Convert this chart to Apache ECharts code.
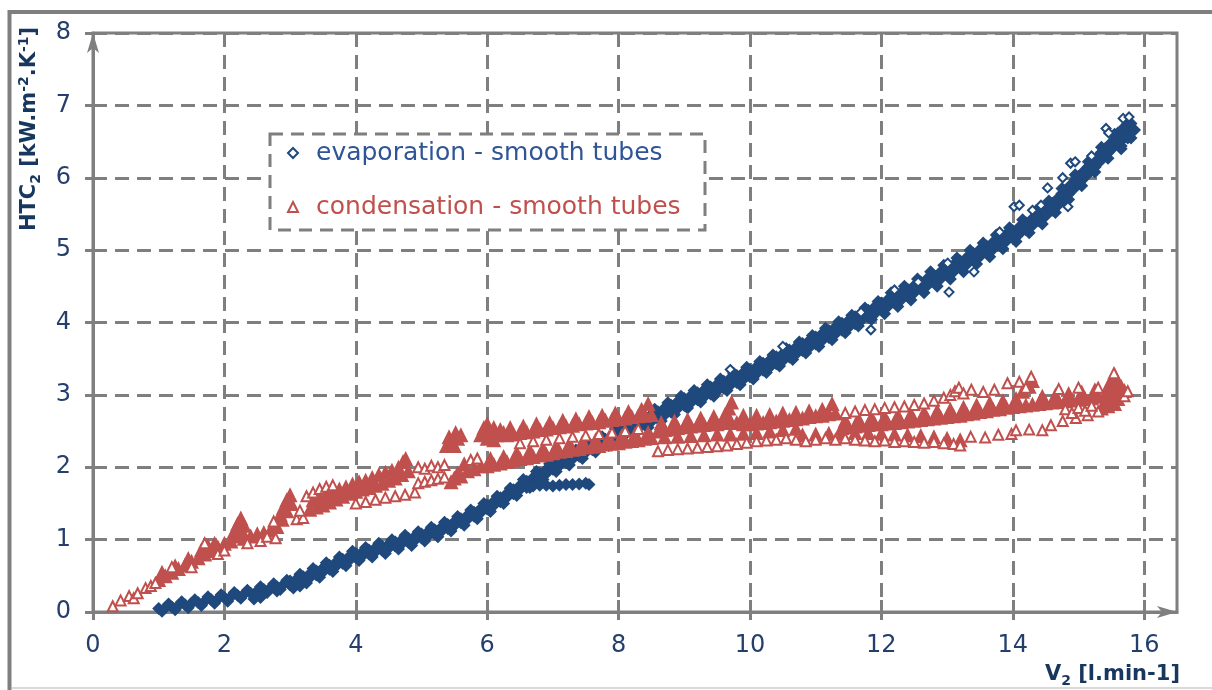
<!DOCTYPE html>
<html><head><meta charset="utf-8">
<script src="https://cdn.jsdelivr.net/npm/echarts@6/dist/echarts.min.js"></script>
<style>html,body{margin:0;padding:0;background:#fff}#c{width:1212px;height:690px}</style>
</head><body><div id="c"></div>
<script>
// ---------------- data ----------------
const X_TICKS = [0, 2, 4, 6, 8, 10, 12, 14, 16];
const Y_TICKS = [0, 1, 2, 3, 4, 5, 6, 7, 8];
const SERIES_NAMES = ['evaporation - smooth tubes', 'condensation - smooth tubes'];

// evaporation: dense band (centre line of the band)
const evapBandMid = [
[1.0,.05],[1.1,.06],[1.2,.07],[1.3,.09],[1.4,.10],[1.5,.12],[1.6,.13],[1.7,.15],[1.8,.17],[1.9,.18],
[2.0,.20],[2.1,.21],[2.2,.23],[2.3,.25],[2.4,.26],[2.5,.29],[2.6,.31],[2.7,.33],[2.8,.35],[2.9,.38],
[3.0,.40],[3.1,.43],[3.2,.46],[3.3,.50],[3.4,.54],[3.5,.58],[3.6,.62],[3.7,.66],[3.8,.70],[3.9,.74],
[4.0,.78],[4.1,.80],[4.2,.83],[4.3,.86],[4.4,.88],[4.5,.91],[4.6,.94],[4.7,.97],[4.8,.99],[4.9,1.02],
[5.0,1.05],[5.1,1.08],[5.2,1.11],[5.3,1.14],[5.4,1.18],[5.5,1.22],[5.6,1.26],[5.7,1.31],[5.8,1.35],[5.9,1.40],
[6.0,1.45],[6.1,1.50],[6.2,1.55],[6.3,1.61],[6.4,1.66],[6.5,1.72],[6.6,1.78],[6.7,1.83],[6.8,1.89],[6.9,1.94],
[7.0,2.00],[7.1,2.05],[7.2,2.09],[7.3,2.14],[7.4,2.18],[7.5,2.23],[7.6,2.27],[7.7,2.32],[7.8,2.36],[7.9,2.41],
[8.0,2.45],[8.1,2.50],[8.2,2.54],[8.3,2.59],[8.4,2.63],[8.5,2.68],[8.6,2.72],[8.7,2.77],[8.8,2.81],[8.9,2.86],
[9.0,2.90],[9.1,2.94],[9.2,2.98],[9.3,3.02],[9.4,3.06],[9.5,3.10],[9.6,3.14],[9.7,3.18],[9.8,3.22],[9.9,3.26],
[10.0,3.30],[10.1,3.34],[10.2,3.39],[10.3,3.43],[10.4,3.48],[10.5,3.52],[10.6,3.57],[10.7,3.61],[10.8,3.66],[10.9,3.70],
[11.0,3.75],[11.1,3.80],[11.2,3.84],[11.3,3.89],[11.4,3.94],[11.5,3.98],[11.6,4.03],[11.7,4.08],[11.8,4.12],[11.9,4.17],
[12.0,4.22],[12.1,4.27],[12.2,4.32],[12.3,4.36],[12.4,4.41],[12.5,4.46],[12.6,4.51],[12.7,4.56],[12.8,4.60],[12.9,4.65],
[13.0,4.70],[13.1,4.75],[13.2,4.80],[13.3,4.85],[13.4,4.91],[13.5,4.96],[13.6,5.01],[13.7,5.06],[13.8,5.12],[13.9,5.17],
[14.0,5.22],[14.1,5.27],[14.2,5.33],[14.3,5.39],[14.4,5.45],[14.5,5.52],[14.6,5.60],[14.7,5.68],[14.8,5.78],[14.9,5.87],
[15.0,5.97],[15.1,6.06],[15.2,6.15],[15.3,6.25],[15.4,6.35],[15.5,6.44],[15.6,6.52],[15.7,6.60],[15.8,6.66]
];
// evaporation: lower edge of the band
const evapBandLow = [
[1.05,.01],[1.25,.03],[1.45,.06],[1.65,.09],[1.85,.12],[2.05,.15],[2.25,.19],[2.45,.22],[2.65,.27],[2.85,.31],
[3.05,.33],[3.25,.40],[3.45,.48],[3.65,.56],[3.85,.64],[4.05,.71],[4.25,.76],[4.45,.81],[4.65,.87],[4.85,.92],
[5.05,.98],[5.25,1.04],[5.45,1.12],[5.65,1.20],[5.85,1.29],[6.05,1.39],[6.25,1.50],[6.45,1.61],[6.65,1.72],[6.85,1.83],
[7.05,1.94],[7.25,2.03],[7.45,2.12],[7.65,2.21],[7.85,2.30],[8.05,2.37],[8.25,2.46],[8.45,2.55],[8.65,2.64],[8.85,2.73],
[9.05,2.82],[9.25,2.90],[9.45,2.98],[9.65,3.06],[9.85,3.14],[10.05,3.22],[10.25,3.31],[10.45,3.40],[10.65,3.49],[10.85,3.58],
[11.05,3.67],[11.25,3.76],[11.45,3.86],[11.65,3.95],[11.85,4.04],[12.05,4.12],[12.25,4.22],[12.45,4.31],[12.65,4.41],[12.85,4.50],
[13.05,4.60],[13.25,4.70],[13.45,4.81],[13.65,4.91],[13.85,5.02],[14.05,5.12],[14.25,5.24],[14.45,5.36],[14.65,5.52],[14.85,5.70],
[15.05,5.89],[15.25,6.08],[15.45,6.27],[15.65,6.44]
];
// evaporation: upper edge of the band
const evapBandHigh = [
[1.15,.11],[1.35,.14],[1.55,.17],[1.75,.21],[1.95,.24],[2.15,.27],[2.35,.30],[2.55,.35],[2.75,.39],[2.95,.44],
[3.15,.52],[3.35,.60],[3.55,.68],[3.75,.76],[3.95,.84],[4.15,.89],[4.35,.95],[4.55,1.00],[4.75,1.06],[4.95,1.11],
[5.15,1.17],[5.35,1.24],[5.55,1.32],[5.75,1.41],[5.95,1.50],[6.15,1.60],[6.35,1.71],[6.55,1.83],[6.75,1.94],[6.95,2.05],
[7.15,2.15],[7.35,2.24],[7.55,2.33],[7.75,2.42],[7.95,2.53],[8.15,2.62],[8.35,2.71],[8.55,2.80],[8.75,2.89],[8.95,2.98],
[9.15,3.06],[9.35,3.14],[9.55,3.22],[9.75,3.30],[9.95,3.38],[10.15,3.46],[10.35,3.55],[10.55,3.64],[10.75,3.73],[10.95,3.82],
[11.15,3.92],[11.35,4.01],[11.55,4.10],[11.75,4.20],[11.95,4.29],[12.15,4.41],[12.35,4.50],[12.55,4.60],[12.75,4.70],[12.95,4.79],
[13.15,4.89],[13.35,5.00],[13.55,5.10],[13.75,5.21],[13.95,5.31],[14.15,5.42],[14.35,5.54],[14.55,5.68],[14.75,5.85],[14.95,6.04],
[15.15,6.22],[15.35,6.42],[15.55,6.60],[15.75,6.75]
];
// evaporation: side branch, lumps and end cluster (dense)
const evapClusters = [
[6.6,1.72],[6.7,1.74],[6.8,1.75],[6.9,1.75],[7.0,1.74],[7.1,1.75],[7.2,1.76],[7.3,1.76],[7.4,1.77],[7.5,1.78],[7.55,1.76],
[2.45,.18],[2.55,.20],[2.8,.29],[3.15,.36],
[15.6,6.62],[15.65,6.40],[15.7,6.70],[15.75,6.55],[15.8,6.75],[15.8,6.55]
];
// evaporation: isolated points
const evapScattered = [
[14.02,5.60],[14.10,5.62],[14.43,5.62],[14.53,5.86],[14.76,6.00],[14.88,6.20],[14.95,6.22],[14.84,5.60],
[15.42,6.68],[15.46,6.62],[15.68,6.82],[15.77,6.84],[13.01,4.82],[12.56,4.56],[13.03,4.42],[13.41,4.70],
[11.69,4.14],[11.84,3.90],[12.20,4.45],[10.50,3.67],[9.70,3.35],[13.80,5.25],[15.20,6.30],[14.30,5.55]
];

// condensation: dense parts
const condRise = [
[1.0,.45],[1.1,.50],[1.2,.55],[1.3,.60],[1.4,.65],[1.5,.70],[1.6,.75],[1.7,.80],[1.8,.85],[1.9,.90],[2.0,.95],
[1.05,.55],[1.25,.64],[1.45,.74],[1.65,.86],[1.75,.92],[1.85,.95],
[2.15,1.12],[2.2,1.22],[2.25,1.30],[2.3,1.20],[2.2,1.05],[2.28,1.10],
[2.1,.98],[2.3,1.02],[2.4,1.05],[2.5,1.08],[2.6,1.10],[2.7,1.13],[2.8,1.18],
[2.85,1.35],[2.9,1.45],[2.95,1.55],[3.0,1.62],[3.02,1.50],[2.95,1.40],[2.88,1.28],
[3.3,1.42],[3.4,1.45],[3.5,1.48],[3.6,1.52],[3.7,1.56],[3.8,1.60],[3.9,1.64],[4.0,1.67],[4.1,1.70],[4.2,1.72],[4.3,1.75],[4.4,1.78],[4.5,1.82],[4.6,1.85],[4.7,1.90],[4.8,1.95],
[3.35,1.55],[3.45,1.58],[3.55,1.62],[3.65,1.66],[3.75,1.70],[3.85,1.73],[3.95,1.77],[4.05,1.80],[4.15,1.82],[4.25,1.86],[4.35,1.90],[4.45,1.93],[4.55,1.96],[4.65,2.00],[4.72,2.08],[4.76,2.12]
];
const condMidClusters = [
[5.38,2.30],[5.42,2.42],[5.46,2.36],[5.5,2.30],[5.55,2.40],[5.6,2.45],[5.52,2.48],
[5.45,1.80],[5.5,1.85],[5.55,1.92],[5.6,1.88],[5.7,1.95],[5.8,1.98],[5.9,2.02],[5.65,2.05],
[5.9,2.45],[5.95,2.55],[6.0,2.60],[6.05,2.50],[6.1,2.55],[6.15,2.45],[6.2,2.52],[6.25,2.48],[6.0,2.40],[6.1,2.38]
];
const condUpperBand = [
[6.3,2.45],[6.4,2.46],[6.5,2.48],[6.6,2.49],[6.7,2.50],[6.8,2.52],[6.9,2.53],[7.0,2.55],[7.1,2.56],[7.2,2.57],[7.3,2.58],[7.4,2.60],
[7.5,2.61],[7.6,2.62],[7.7,2.63],[7.8,2.65],[7.9,2.66],[8.0,2.67],[8.1,2.68],[8.2,2.70],[8.3,2.71],[8.4,2.72],[8.5,2.73],
[6.35,2.55],[6.55,2.57],[6.75,2.60],[6.95,2.62],[7.15,2.65],[7.35,2.67],[7.55,2.70],[7.75,2.72],[7.95,2.75],[8.15,2.77],[8.35,2.80],[8.45,2.88]
];
const condLowerBand = [
[6.0,2.02],[6.1,2.04],[6.2,2.06],[6.3,2.08],[6.4,2.10],[6.5,2.12],[6.6,2.13],[6.7,2.15],[6.8,2.17],[6.9,2.18],[7.0,2.20],[7.1,2.22],[7.2,2.23],
[7.3,2.25],[7.4,2.26],[7.5,2.28],[7.6,2.29],[7.7,2.30],[7.8,2.32],[7.9,2.33],[8.0,2.34],[8.1,2.36],[8.2,2.37],[8.3,2.38],[8.4,2.40],[8.5,2.41],
[6.05,2.12],[6.25,2.15],[6.45,2.20],[6.65,2.23],[6.85,2.26],[7.05,2.29],[7.25,2.32],[7.45,2.35],[7.65,2.38],[7.85,2.41],[8.05,2.44],[8.25,2.46],[8.45,2.48]
];
const condMiddleBand = [
[8.6,2.50],[8.7,2.52],[8.8,2.53],[8.9,2.55],[9.0,2.56],[9.1,2.57],[9.2,2.58],[9.3,2.59],[9.4,2.60],[9.5,2.60],[9.6,2.62],[9.7,2.65],[9.8,2.62],[9.9,2.60],
[10.0,2.60],[10.1,2.61],[10.2,2.62],[10.3,2.63],[10.4,2.64],[10.5,2.65],[10.6,2.66],[10.7,2.67],[10.8,2.68],[10.9,2.70],[11.0,2.71],[11.1,2.72],[11.2,2.74],[11.3,2.75],
[8.65,2.62],[8.85,2.64],[9.05,2.66],[9.25,2.68],[9.45,2.70],[9.62,2.73],[9.68,2.82],[9.72,2.90],[9.9,2.72],[10.1,2.72],[10.3,2.73],[10.5,2.75],[10.7,2.76],[10.9,2.78],[11.1,2.80],[11.25,2.88],
[8.7,2.42],[8.9,2.43],[9.1,2.44],[9.3,2.45],[9.5,2.46],[9.7,2.46],[9.9,2.47],[10.1,2.48],[10.3,2.50],[10.5,2.52],[10.7,2.54]
];
const condEastBand = [
[11.4,2.55],[11.5,2.56],[11.6,2.57],[11.7,2.58],[11.8,2.59],[11.9,2.60],[12.0,2.60],[12.1,2.61],[12.2,2.62],[12.3,2.63],[12.4,2.64],[12.5,2.65],
[12.6,2.66],[12.7,2.67],[12.8,2.68],[12.9,2.69],[13.0,2.70],[13.1,2.71],[13.2,2.72],[13.3,2.74],[13.4,2.75],[13.5,2.77],[13.6,2.78],[13.7,2.80],
[13.8,2.81],[13.9,2.83],[14.0,2.84],[14.1,2.85],[14.2,2.86],[14.3,2.87],[14.4,2.88],[14.5,2.89],[14.6,2.90],[14.7,2.91],[14.8,2.92],[14.9,2.93],
[15.0,2.94],[15.1,2.95],[15.2,2.96],[15.3,2.98],[15.4,3.00],[15.5,3.02],[15.6,3.04],[15.7,3.06],
[11.45,2.65],[11.65,2.67],[11.85,2.69],[12.05,2.70],[12.25,2.72],[12.45,2.74],[12.65,2.76],[12.85,2.78],[13.05,2.80],[13.25,2.83],[13.45,2.86],
[13.65,2.89],[13.85,2.92],[14.05,2.95],[14.15,3.05],[14.25,3.12],[14.3,3.20],[14.45,2.98],[14.65,3.00],[14.85,3.02],[15.05,3.04],[15.25,3.07],
[15.45,3.12],[15.5,3.20],[15.55,3.28],[15.6,3.15],[15.65,3.12],
[10.8,2.45],[11.0,2.46],[11.2,2.47],[11.4,2.47],[11.6,2.48],[11.8,2.48],[12.0,2.47],[12.2,2.46],[12.4,2.45],[12.6,2.44],[12.8,2.42],[13.0,2.40],[13.2,2.38],
[15.35,2.82],[15.4,2.88],[15.45,2.85],[15.5,2.92],[15.55,2.88],[15.6,2.95]
];
// condensation: sparse / isolated points
const condScattered = [
[0.3,.08],[0.42,.16],[0.55,.22],[0.62,.19],[0.68,.26],[0.8,.33],[0.88,.36],[0.95,.40],
[1.2,.62],[1.5,.62],[1.7,.95],[1.9,.80],[2.0,.85],
[2.35,.95],[2.55,.98],[2.65,1.04],[2.75,1.25],[2.78,1.02],
[3.1,1.28],[3.2,1.30],[3.15,1.40],[3.25,1.60],[3.35,1.65],[3.45,1.70],[3.55,1.73],[3.65,1.75],
[4.0,1.50],[4.15,1.52],[4.3,1.55],[4.45,1.58],[4.6,1.60],[4.75,1.62],[4.9,1.65],
[4.95,1.78],[5.05,1.80],[5.15,1.82],[5.25,1.84],[5.35,1.86],
[4.95,2.00],[5.05,1.98],[5.15,2.02],[5.25,2.00],[5.35,2.03],[5.75,2.10],[5.85,2.12],
[6.5,2.33],[6.7,2.36],[6.9,2.38],[7.1,2.40],[7.3,2.42],[7.5,2.44],[7.7,2.46],[7.9,2.48],[8.1,2.50],[8.3,2.53],
[8.6,2.22],[8.75,2.24],[8.9,2.25],[9.05,2.26],[9.2,2.27],[9.35,2.28],[9.5,2.29],[9.65,2.30],[9.8,2.32],[9.95,2.34],
[10.1,2.36],[10.25,2.37],[10.4,2.38],[10.55,2.40],[10.7,2.38],[10.85,2.36],[11.0,2.38],[11.15,2.40],[11.3,2.38],[11.45,2.40],
[11.6,2.38],[11.75,2.37],[11.9,2.36],[12.05,2.37],[12.2,2.35],[12.35,2.36],[12.5,2.35],[12.65,2.34],[12.8,2.35],[12.95,2.33],
[13.1,2.32],[13.2,2.30],[13.36,2.42],[13.58,2.41],[13.78,2.45],[13.98,2.46],[14.05,2.51],[14.25,2.52],[14.45,2.51],[14.58,2.58],
[14.76,2.64],[14.96,2.68],[15.14,2.72],[15.3,2.77],
[14.8,2.80],[14.9,2.75],[15.0,2.82],[15.1,2.78],[15.2,2.85],[15.7,2.98],[15.75,3.05],
[11.45,2.75],[11.6,2.77],[11.75,2.79],[11.9,2.80],[12.05,2.82],[12.2,2.83],[12.35,2.84],[12.5,2.86],[12.65,2.88],[12.8,2.92],
[12.95,2.96],[13.05,3.00],[13.12,3.05],[13.18,3.10],[13.25,3.02],[13.37,3.07],[13.55,3.04],[13.72,3.07],[13.92,3.16],[14.1,3.18],
[14.28,3.25],[14.2,3.10],[15.54,3.30],[15.3,3.10],[15.0,3.10],[14.7,3.08]
];

// ---------------- styling ----------------
const BLUE = '#1f497d', RED = '#c0504d', GREY = '#7f7f7f';
const LABEL = '#243f6b', TITLE = '#17375e';
const FONT = 'DejaVu Sans';

// marker size of the dense core grows with the band width seen in the picture
const bandSize = x => (x < 3 ? 13 : x < 8 ? 17 : 20);
const dense = (arr, sym, sizeFn) => arr.map(p => ({ value: p, symbol: sym, symbolSize: sizeFn(p[0]) }));
const evapData = [].concat(
  dense(evapBandMid, 'diamond', bandSize),
  dense(evapBandLow, 'diamond', () => 13),
  dense(evapBandHigh, 'diamond', () => 13),
  dense(evapClusters, 'diamond', () => 13),
  evapScattered);
const redSize = () => 15;
const condData = [].concat(
  dense(condRise, 'triangle', redSize), dense(condMidClusters, 'triangle', redSize),
  dense(condUpperBand, 'triangle', redSize), dense(condLowerBand, 'triangle', redSize),
  dense(condMiddleBand, 'triangle', redSize), dense(condEastBand, 'triangle', redSize),
  condScattered);

const axisLineStyle = { color: GREY, width: 3 };
function xAx(inside) {
  return {
    type: 'value', min: 0, max: 16.5, interval: 2, position: 'bottom',
    axisLine: inside ? { show: false, onZero: false } :
      { show: true, onZero: false, lineStyle: axisLineStyle, symbol: ['none', 'arrow'], symbolSize: [9, 20], symbolOffset: [0, 0] },
    axisTick: { show: true, inside: inside, length: inside ? 12 : 8, lineStyle: axisLineStyle, customValues: X_TICKS },
    axisLabel: inside ? { show: false } : { customValues: X_TICKS, margin: 22, color: LABEL, fontSize: 24, fontFamily: FONT },
    splitLine: inside ? { show: false } : { show: true, lineStyle: { color: GREY, width: 3, type: [14, 8] } }
  };
}
function yAx(inside) {
  return {
    type: 'value', min: 0, max: 8, interval: 1, position: 'left',
    axisLine: inside ? { show: false, onZero: false } :
      { show: true, onZero: false, lineStyle: axisLineStyle, symbol: ['none', 'arrow'], symbolSize: [9, 20], symbolOffset: [0, 0] },
    axisTick: { show: true, inside: inside, length: inside ? 12 : 8, lineStyle: axisLineStyle, customValues: Y_TICKS },
    axisLabel: inside ? { show: false } : { customValues: Y_TICKS, margin: 22, color: LABEL, fontSize: 24, fontFamily: FONT },
    splitLine: inside ? { show: false } : { show: true, lineStyle: { color: GREY, width: 3, type: [14, 8] } }
  };
}

const chart = echarts.init(document.getElementById('c'), null, { renderer: 'canvas' });
chart.setOption({
  animation: false,
  backgroundColor: '#fff',
  grid: { left: 93, right: 35, top: 33, bottom: 78, show: true, borderColor: GREY, borderWidth: 3, backgroundColor: 'transparent' },
  xAxis: [xAx(false), xAx(true)],
  yAxis: [yAx(false), yAx(true)],
  legend: {
    orient: 'vertical', left: 287, top: 138, padding: 0, z: 10,
    itemWidth: 10, itemHeight: 10, itemGap: 24,
    textStyle: { fontSize: 25, fontFamily: FONT, lineHeight: 30, padding: [0, 0, 0, 13] },
    data: [
      { name: SERIES_NAMES[0], textStyle: { color: '#2f5597' } },
      { name: SERIES_NAMES[1], textStyle: { color: RED } }
    ]
  },
  graphic: [
    { type: 'polyline', z: 1, shape: { points: [[9.5, 690], [9.5, 12], [1212, 12]] }, style: { stroke: GREY, lineWidth: 4, fill: null } },
    { type: 'line', z: 1, shape: { x1: 12, y1: 688, x2: 1212, y2: 688 }, style: { stroke: '#d9d9d9', lineWidth: 2 } },
    { type: 'rect', z: 3, shape: { x: 270, y: 134, width: 435, height: 96 }, style: { fill: '#fff', stroke: GREY, lineWidth: 3, lineDash: [13, 8] } },
    { type: 'text', z: 5, x: 30, y: 129, rotation: Math.PI / 2,
      style: { text: '{m|HTC}{s|2}{m| [kW.m}{p|-2}{m|.K}{p|-1}{m|]}', align: 'center', verticalAlign: 'middle',
        rich: {
          m: { fontSize: 21, fontWeight: 'bold', fontFamily: FONT, fill: TITLE, lineHeight: 26 },
          s: { fontSize: 14, fontWeight: 'bold', fontFamily: FONT, fill: TITLE, lineHeight: 14, verticalAlign: 'bottom' },
          p: { fontSize: 14, fontWeight: 'bold', fontFamily: FONT, fill: TITLE, lineHeight: 14, verticalAlign: 'top' }
        } } },
    { type: 'text', z: 5, x: 1180, y: 675,
      style: { text: '{m|V}{s|2}{m| [l.min-1]}', align: 'right', verticalAlign: 'middle',
        rich: {
          m: { fontSize: 21, fontWeight: 'bold', fontFamily: FONT, fill: TITLE, lineHeight: 26 },
          s: { fontSize: 14, fontWeight: 'bold', fontFamily: FONT, fill: TITLE, lineHeight: 14, verticalAlign: 'bottom' }
        } } }
  ],
  series: [
    { name: SERIES_NAMES[0], type: 'scatter', symbol: 'emptyDiamond', symbolSize: 9,
      itemStyle: { color: BLUE, opacity: 1 }, data: evapData },
    { name: SERIES_NAMES[1], type: 'scatter', symbol: 'emptyTriangle', symbolSize: 10,
      itemStyle: { color: RED, opacity: 1 }, data: condData }
  ]
});
</script>
</body></html>
